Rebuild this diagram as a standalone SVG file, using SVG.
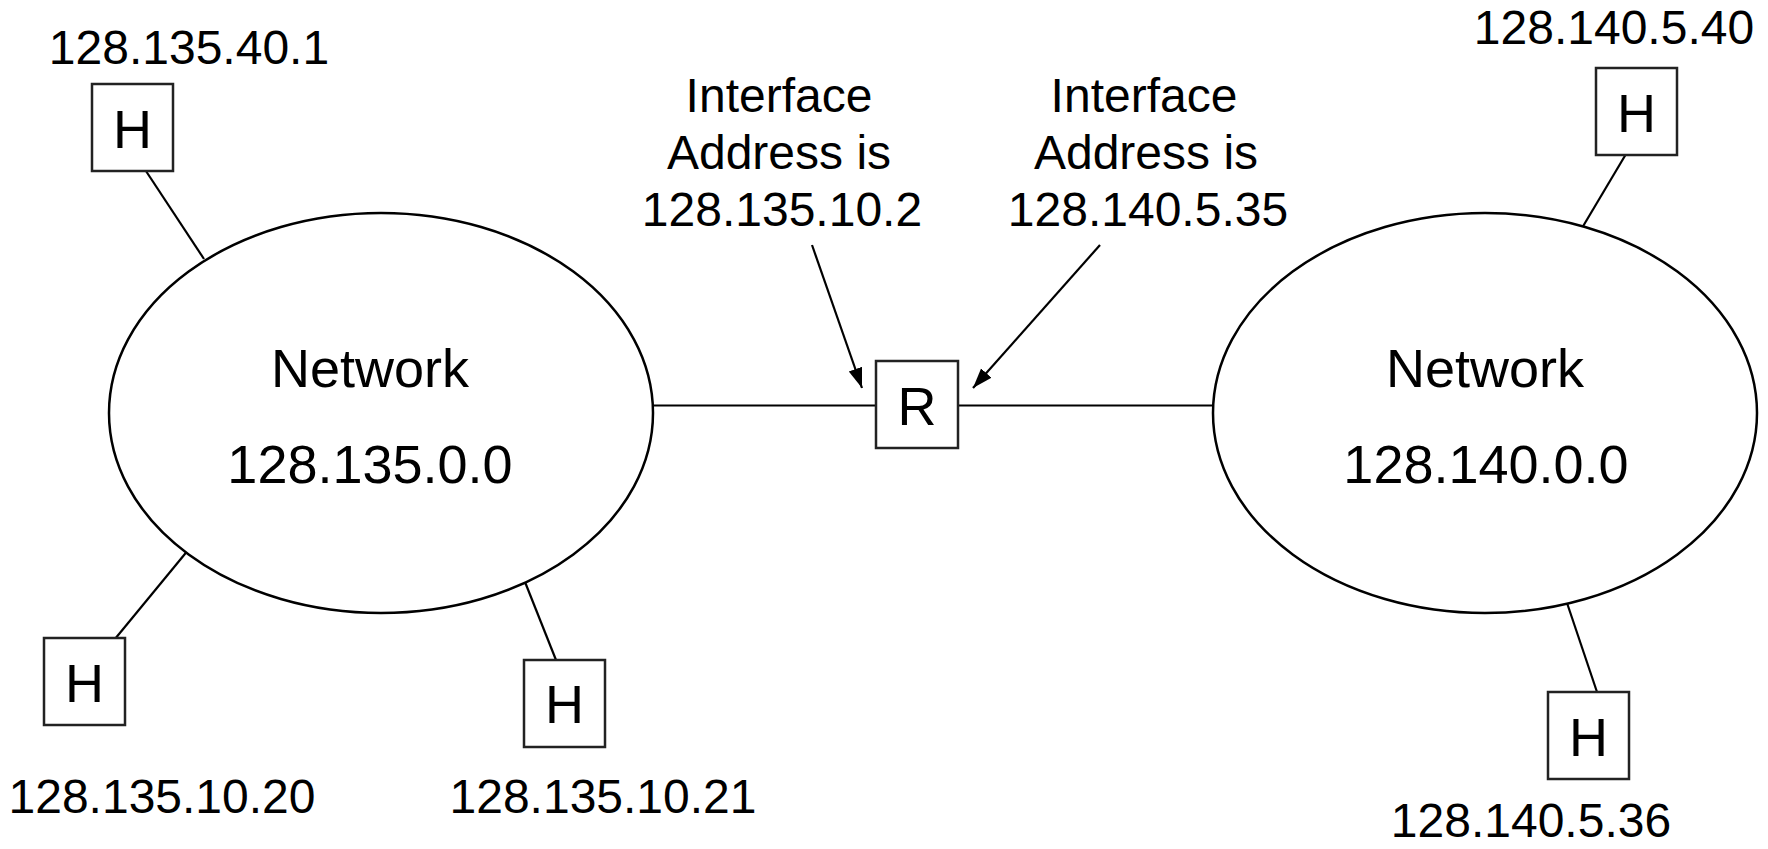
<svg xmlns="http://www.w3.org/2000/svg" width="1768" height="849" viewBox="0 0 1768 849">
<style>
  text { font-family: "Liberation Sans", Arial, sans-serif; fill: #000; text-anchor: middle; }
  .lbl { font-size: 48px; }
  .big { font-size: 54px; }
  .net { fill: #fff; stroke: #000; stroke-width: 2.5; }
  .box { fill: #fff; stroke: #222; stroke-width: 2.5; }
  .ln { stroke: #000; stroke-width: 2.2; fill: none; }
</style>
<defs>
  <marker id="arr" markerUnits="userSpaceOnUse" markerWidth="22" markerHeight="16" refX="20" refY="7" orient="auto">
    <path d="M0,0 L20,7 L0,14 z" fill="#000"/>
  </marker>
</defs>
<rect width="1768" height="849" fill="#fff"/>

<g id="connectors">
  <line class="ln" x1="653" y1="405.5" x2="876" y2="405.5"/>
  <line class="ln" x1="958" y1="405.5" x2="1213" y2="405.5"/>
  <line class="ln" x1="142" y1="165" x2="204" y2="259"/>
  <line class="ln" x1="1629" y1="149" x2="1582" y2="228"/>
  <line class="ln" x1="110" y1="645" x2="189" y2="549"/>
  <line class="ln" x1="556" y1="660" x2="525" y2="582"/>
  <line class="ln" x1="1597" y1="692" x2="1565" y2="597"/>
  <line class="ln" x1="812" y1="245" x2="862" y2="388" marker-end="url(#arr)"/>
  <line class="ln" x1="1100" y1="245" x2="973" y2="388" marker-end="url(#arr)"/>
</g>

<g id="net-left">
  <ellipse class="net" cx="381" cy="413" rx="272" ry="200"/>
  <text class="big" x="370" y="387">Network</text>
  <text class="big" x="370" y="483">128.135.0.0</text>
</g>
<g id="net-right">
  <ellipse class="net" cx="1485" cy="413" rx="272" ry="200"/>
  <text class="big" x="1485" y="387">Network</text>
  <text class="big" x="1486" y="483">128.140.0.0</text>
</g>

<g id="router">
  <rect class="box" x="876" y="361" width="82" height="87"/>
  <text class="big" x="917" y="425">R</text>
</g>

<g id="host-tl">
  <rect class="box" x="92" y="84" width="81" height="87"/>
  <text class="big" x="132.5" y="147.5">H</text>
  <text class="lbl" x="189" y="64">128.135.40.1</text>
</g>
<g id="host-tr">
  <rect class="box" x="1596" y="68" width="81" height="87"/>
  <text class="big" x="1636.5" y="131.5">H</text>
  <text class="lbl" x="1614" y="44">128.140.5.40</text>
</g>
<g id="host-bl">
  <rect class="box" x="44" y="638" width="81" height="87"/>
  <text class="big" x="84.5" y="701.5">H</text>
  <text class="lbl" x="162" y="813">128.135.10.20</text>
</g>
<g id="host-bm">
  <rect class="box" x="524" y="660" width="81" height="87"/>
  <text class="big" x="564.5" y="723">H</text>
  <text class="lbl" x="603" y="813">128.135.10.21</text>
</g>
<g id="host-br">
  <rect class="box" x="1548" y="692" width="81" height="87"/>
  <text class="big" x="1588.5" y="755.5">H</text>
  <text class="lbl" x="1531" y="837">128.140.5.36</text>
</g>

<g id="iface-left">
  <text class="lbl" x="779" y="112">Interface</text>
  <text class="lbl" x="779" y="169">Address is</text>
  <text class="lbl" x="782" y="226">128.135.10.2</text>
</g>
<g id="iface-right">
  <text class="lbl" x="1144" y="112">Interface</text>
  <text class="lbl" x="1146" y="169">Address is</text>
  <text class="lbl" x="1148" y="226">128.140.5.35</text>
</g>
</svg>
